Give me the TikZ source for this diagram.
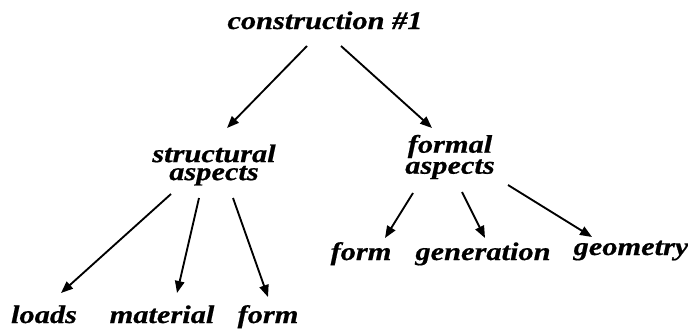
\documentclass[tikz,border=0pt]{standalone}
\usepackage{fontspec}
\setmainfont{Liberation Serif}
\newfontfamily\labelfont{Liberation Serif}[FakeStretch=1.2,FakeBold=0.6]
\usetikzlibrary{arrows.meta}
\begin{document}
\begin{tikzpicture}[x=0.75pt,y=-0.75pt,
  lbl/.style={inner sep=0pt, anchor=base,
    font=\labelfont\bfseries\itshape\fontsize{19}{13.5}\selectfont},
  grp/.style={lbl, anchor=center, align=center},
  arr/.style={line width=1.4pt, -{Triangle[length=9pt,width=7pt]}}]
  \useasboundingbox (0,0) rectangle (688,332);

  % root
  \node[lbl] (c) at (325,29) {construction \#1};

  % second level
  \node[grp] (sa) at (214,165) {structural\\aspects};
  \node[grp] (fa) at (450,157) {formal\\aspects};

  % leaves under structural aspects
  \node[lbl] (ld) at (44,323)  {loads};
  \node[lbl] (mt) at (162,323) {material};
  \node[lbl] (f1) at (268,323) {form};

  % leaves under formal aspects
  \node[lbl] (f2) at (361,260) {form};
  \node[lbl] (gn) at (483,260) {generation};
  \node[lbl] (gm) at (631,255) {geometry};

  % connectors
  \draw[arr] ([shift={(-18,17)}]c.base) -- ([shift={(13,-37)}]sa.center);
  \draw[arr] ([shift={(16,17)}]c.base)  -- ([shift={(-18,-29)}]fa.center);

  \draw[arr] ([shift={(-43,29)}]sa.center) -- ([shift={(17,-30)}]ld.base);
  \draw[arr] ([shift={(-15,33)}]sa.center) -- ([shift={(15,-30)}]mt.base);
  \draw[arr] ([shift={(19,33)}]sa.center)  -- ([shift={(0,-26)}]f1.base);

  \draw[arr] ([shift={(-37,36)}]fa.center) -- ([shift={(24,-22)}]f2.base);
  \draw[arr] ([shift={(12,35)}]fa.center)  -- ([shift={(2,-22)}]gn.base);
  \draw[arr] ([shift={(58,28)}]fa.center)  -- ([shift={(-39,-18)}]gm.base);
\end{tikzpicture}
\end{document}
